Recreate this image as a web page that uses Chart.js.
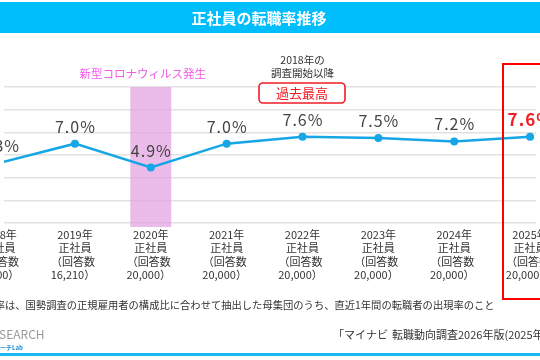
<!DOCTYPE html>
<html lang="ja">
<head>
<meta charset="utf-8">
<script src="https://cdn.jsdelivr.net/npm/chart.js@4/dist/chart.umd.min.js"></script>
<style>
  html, body { margin: 0; padding: 0; background: #fff; }
  #chart { display: block; }
</style>
</head>
<body>
<canvas id="chart" width="540" height="360"></canvas>
<script>
// data
const years = [2018, 2019, 2020, 2021, 2022, 2023, 2024, 2025];
const rates = [5.3, 7.0, 4.9, 7.0, 7.6, 7.5, 7.2, 7.6];
const respondents = ["20,000", "16,210", "20,000", "20,000", "20,000", "20,000", "20,000", "20,000"];
const yTicks = [0, 2, 4, 6, 8, 10, 12];

const title = "正社員の転職率推移";
const covidNote = "新型コロナウィルス発生";
const recordNote = ["2018年の", "調査開始以降"];
const recordBadge = "過去最高";
const footHead = "※転職率";
const footnote = "は、国勢調査の正規雇用者の構成比に合わせて抽出した母集団のうち、直近1年間の転職者の出現率のこと";
const sourceHead = "「マイナビ";
const source = "転職動向調査2026年版(2025年実績)」";

const JP = '"Noto Sans CJK JP", "Noto Sans", sans-serif';
const lineBlue = "#16a6e6";

function roundRect(ctx, x, y, w, h, r) {
    ctx.beginPath();
    ctx.moveTo(x + r, y);
    ctx.arcTo(x + w, y, x + w, y + h, r);
    ctx.arcTo(x + w, y + h, x, y + h, r);
    ctx.arcTo(x, y + h, x, y, r);
    ctx.arcTo(x, y, x + w, y, r);
    ctx.closePath();
}

const slideDeco = {
    id: "slideDeco",
    beforeDraw(chart) {
        const ctx = chart.ctx;
        ctx.save();
        ctx.fillStyle = "#fff";
        ctx.fillRect(0, 0, chart.width, chart.height);

        // title bar
        ctx.fillStyle = "#00bdfc";
        ctx.fillRect(0, 2, chart.width, 31);
        ctx.fillStyle = "#fff";
        ctx.font = "bold 15px " + JP;
        ctx.textAlign = "center";
        ctx.textBaseline = "middle";
        ctx.fillText(title, 259, 18);

        // bottom rule
        ctx.fillStyle = "#18b8f2";
        ctx.fillRect(0, 353, chart.width, 3);

        // footnote + source
        ctx.fillStyle = "#333";
        ctx.font = "10.3px " + JP;
        ctx.textAlign = "right";
        ctx.fillText(footHead, 5, 305);
        ctx.textAlign = "left";
        ctx.fillText(footnote, 5, 305);
        ctx.font = "11px " + JP;
        ctx.textAlign = "right";
        ctx.fillText(sourceHead, 388, 335);
        ctx.textAlign = "left";
        ctx.fillText(source, 392, 335);

        // logo fragment
        ctx.fillStyle = "#9a9a9a";
        ctx.font = "12px " + JP;
        ctx.fillText("SEARCH", -1, 334);
        ctx.fillStyle = "#1c8fd6";
        ctx.font = "bold 6px " + JP;
        ctx.fillText("ーチLab", 0, 348);
        ctx.restore();
    },
    beforeDatasetsDraw(chart) {
        const ctx = chart.ctx;
        const x = chart.scales.x;
        const y = chart.scales.y;
        const step = x.getPixelForValue(2021) - x.getPixelForValue(2020);
        const cx = x.getPixelForValue(2020);
        ctx.save();
        // covid band
        ctx.fillStyle = "rgba(226, 160, 224, 0.7)";
        ctx.fillRect(cx - step * 0.27, y.getPixelForValue(12), step * 0.54, y.getPixelForValue(0) - y.getPixelForValue(12) + 4);
        ctx.fillStyle = "#f25ae8";
        ctx.font = "11.5px " + JP;
        ctx.textAlign = "center";
        ctx.textBaseline = "middle";
        ctx.fillText(covidNote, cx - 8, 74);

        // record note above 2022
        const rx = x.getPixelForValue(2022);
        ctx.fillStyle = "#333";
        ctx.font = "10.5px " + JP;
        ctx.fillText(recordNote[0], rx, 60);
        ctx.fillText(recordNote[1], rx, 73);
        ctx.fillStyle = "#fff";
        roundRect(ctx, 259, 83, 86, 20, 4);
        ctx.fill();
        ctx.strokeStyle = "#f21c24";
        ctx.lineWidth = 1.6;
        ctx.stroke();
        ctx.fillStyle = "#f21c24";
        ctx.font = "13px " + JP;
        ctx.fillText(recordBadge, 302, 93);
        ctx.restore();
    },
    afterDatasetsDraw(chart) {
        const ctx = chart.ctx;
        const x = chart.scales.x;
        const y = chart.scales.y;
        ctx.save();
        ctx.textAlign = "center";
        ctx.textBaseline = "middle";
        years.forEach((yr, i) => {
            const px = x.getPixelForValue(yr);
            const py = y.getPixelForValue(rates[i]);
            const last = i === years.length - 1;
            ctx.fillStyle = last ? "#f21c24" : "#444";
            ctx.font = (last ? "bold 17px " : "16px ") + JP;
            ctx.letterSpacing = "1px";
            ctx.fillText(rates[i].toFixed(1) + "%", px + 0.5, py - 17);
            ctx.letterSpacing = "0px";

            ctx.fillStyle = "#333";
            ctx.font = "11px " + JP;
            const lines = [yr + "年", "正社員", "（回答数", respondents[i] + "）"];
            lines.forEach((t, j) => {
                ctx.fillText(t, px + (j >= 2 ? -2 : 0), 235 + j * 13.3);
            });
        });
        ctx.restore();
    },
    afterDraw(chart) {
        const ctx = chart.ctx;
        ctx.save();
        ctx.strokeStyle = "#f00";
        ctx.lineWidth = 2;
        ctx.strokeRect(503, 64, 60, 235);
        ctx.restore();
    }
};

new Chart(document.getElementById("chart"), {
    type: "line",
    data: {
        datasets: [{
            data: years.map((yr, i) => ({ x: yr, y: rates[i] })),
            borderColor: lineBlue,
            backgroundColor: lineBlue,
            borderWidth: 2.5,
            pointRadius: 4,
            pointBorderWidth: 0,
            tension: 0
        }]
    },
    options: {
        responsive: false,
        animation: false,
        layout: { padding: { top: 87, bottom: 137, left: 0, right: 0 } },
        plugins: { legend: { display: false }, tooltip: { enabled: false } },
        scales: {
            x: { type: "linear", min: 2018.065, max: 2025.078, display: false },
            y: {
                min: 0,
                max: 12,
                afterBuildTicks: (scale) => { scale.ticks = yTicks.map(v => ({ value: v })); },
                ticks: { display: false },
                grid: { color: "#e2e2e2", lineWidth: 1.5, drawTicks: false },
                border: { display: false }
            }
        }
    },
    plugins: [slideDeco]
});
</script>
</body>
</html>
